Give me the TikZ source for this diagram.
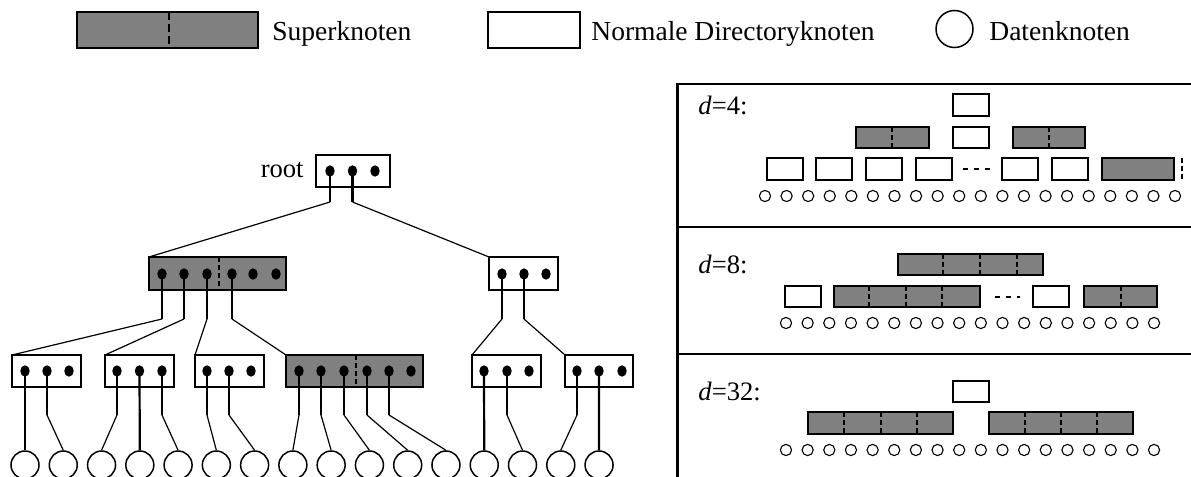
\documentclass[tikz,border=0pt]{standalone}
\usepackage{fontspec}
\setmainfont{Liberation Serif}
\usetikzlibrary{shapes.geometric}
\definecolor{sgray}{gray}{0.5}
\newcommand\mkbx[6]{\node[#6, minimum width={(#4-#2)*0.5pt}, minimum height={(#5-#3)*0.5pt}] (#1) at ({(#2+#4)/2},{(#3+#5)/2}) {};}
\newcommand\mkdiv[2]{\draw[divd] (#2,0 |- #1.north) -- (#2,0 |- #1.south);}
\newcommand\mkconn[3]{\draw[stem] (#1.center) -- (#1.center |- 0,#2) coordinate (#1b); \draw[diag] (#1b) -- (#3);}
\begin{document}
\begin{tikzpicture}[x=0.5pt,y=-0.5pt,
 bx/.style={draw, line width=1pt, inner sep=0pt, outer sep=0pt, rectangle},
 wbox/.style={bx, fill=white},
 sbox/.style={bx, fill=sgray},
 divd/.style={line width=1pt, dash pattern=on 2.5pt off 1.5pt},
 dot/.style={ellipse, fill=black, inner sep=0pt, minimum width=4.7pt, minimum height=5.7pt},
 dnode/.style={circle, draw, line width=0.75pt, inner sep=0pt, minimum size=14pt},
 snode/.style={circle, draw, line width=0.55pt, inner sep=0pt, minimum size=5.6pt},
 stem/.style={line width=1.1pt},
 diag/.style={line width=0.6pt},
 frame/.style={line width=1.1pt},
 dashes/.style={line width=0.9pt, dash pattern=on 2.5pt off 3pt},
 txt/.style={inner sep=0pt, font=\fontsize{13.75}{16}\selectfont},
 dtxt/.style={inner sep=0pt, font=\fontsize{13.3}{15}\selectfont},
]
\useasboundingbox (0,0) rectangle (1191,477);
\clip (0,0) rectangle (1191,477);

% ---------- legend ----------
\mkbx{lgs}{77}{12}{258}{48}{sbox}
\draw[line width=1.2pt, dash pattern=on 4pt off 2pt] (169,0 |- lgs.north) -- (169,0 |- lgs.south);
\node[txt, anchor=base west] (lgst) at (272,40) {Superknoten};
\mkbx{lgw}{488}{12}{580}{48}{wbox}
\node[txt, anchor=base west] (lgwt) at (591,40) {Normale Directoryknoten};
\node[circle, draw, line width=0.75pt, inner sep=0pt, minimum size=18.5pt] (lgc) at (954.5,29) {};
\node[txt, anchor=base west] (lgct) at (989,40) {Datenknoten};

% ---------- tree ----------
\mkbx{root}{316}{155}{390}{187}{wbox}
\node[dot] (r1) at (330,171) {};
\node[dot] (r2) at (352.5,171) {};
\node[dot] (r3) at (375,171) {};
\node[dtxt, anchor=base east] (rootlbl) at (304,177) {root};

\mkbx{L}{149}{257}{286}{290}{sbox}
\mkdiv{L}{219}
\foreach \n/\x in {1/162,2/184,3/207,4/232,5/253,6/276} \node[dot] (L\n) at (\x,274) {};
\mkbx{R}{489}{257}{558}{290}{wbox}
\foreach \n/\x in {1/502,2/524,3/546} \node[dot] (R\n) at (\x,274) {};

\mkbx{A}{12}{355}{81}{387}{wbox}
\foreach \n/\x in {1/25,2/47,3/69} \node[dot] (A\n) at (\x,371) {};
\mkbx{B}{105}{355}{174}{387}{wbox}
\foreach \n/\x in {1/117,2/139.5,3/162} \node[dot] (B\n) at (\x,371) {};
\mkbx{C}{195}{355}{264}{387}{wbox}
\foreach \n/\x in {1/207,2/229,3/251} \node[dot] (C\n) at (\x,371) {};
\mkbx{D}{286}{355}{423}{387}{sbox}
\mkdiv{D}{356}
\foreach \n/\x in {1/299,2/321,3/344,4/367,5/389,6/411} \node[dot] (D\n) at (\x,371) {};
\mkbx{E}{472}{355}{541}{387}{wbox}
\foreach \n/\x in {1/484,2/507,3/529} \node[dot] (E\n) at (\x,371) {};
\mkbx{F}{565}{355}{633}{387}{wbox}
\foreach \n/\x in {1/577,2/599,3/622} \node[dot] (F\n) at (\x,371) {};

\foreach \i in {1,...,16} \node[dnode] (c\i) at ({25+38.27*(\i-1)},465) {};

% connectors
\mkconn{r1}{202}{L.north west}
\mkconn{r2}{202}{R.north west}
\mkconn{L1}{319}{A.north west}
\mkconn{L2}{319}{B.north west}
\mkconn{L3}{319}{C.north west}
\mkconn{L4}{319}{D.north west}
\mkconn{R1}{319}{E.north west}
\mkconn{R2}{319}{F.north west}
\draw[stem] (A1.center) -- (c1.north);
\mkconn{A2}{415}{c2.north}
\mkconn{B1}{415}{c3.north}
\draw[stem] (B2.center) -- (c4.north);
\mkconn{B3}{415}{c5.north}
\mkconn{C1}{415}{c6.north}
\mkconn{C2}{415}{c7.north}
\mkconn{D1}{415}{c8.north}
\mkconn{D2}{415}{c9.north}
\mkconn{D3}{415}{c10.north}
\mkconn{D4}{415}{c11.north}
\mkconn{D5}{415}{c12.north}
\draw[stem] (E1.center) -- (c13.north);
\mkconn{E2}{415}{c14.north}
\mkconn{F1}{415}{c15.north}
\draw[stem] (F2.center) -- (c16.north);

% ---------- right panel ----------
\draw[frame] (1191,84) -- (677.5,84) -- (677.5,477);
\draw[frame] (676,227) -- (1191,227);
\draw[frame] (676,354) -- (1191,354);

% d=4
\node[dtxt, anchor=base west] (l4) at (698,114) {\textit{d}=4:};
\mkbx{p0}{953}{94}{989}{116}{wbox}
\mkbx{p1a}{856}{127}{929}{148}{sbox} \mkdiv{p1a}{892}
\mkbx{p1b}{953}{127}{989}{148}{wbox}
\mkbx{p1c}{1013}{127}{1085}{148}{sbox} \mkdiv{p1c}{1049}
\mkbx{p2a}{767}{158}{803}{180}{wbox}
\mkbx{p2b}{816}{158}{852}{180}{wbox}
\mkbx{p2c}{866}{158}{902}{180}{wbox}
\mkbx{p2d}{916}{158}{952}{180}{wbox}
\draw[dashes] (963,169) -- (990,169);
\mkbx{p2e}{1002}{158}{1038}{180}{wbox}
\mkbx{p2f}{1052}{158}{1088}{180}{wbox}
\mkbx{p2g}{1102}{158}{1174}{180}{sbox}
\draw[divd] (1181.5,158) -- (1181.5,180);
\foreach \i in {0,...,19} \node[snode] (a\i) at ({765+21.58*\i},196) {};

% d=8
\node[dtxt, anchor=base west] (l8) at (698,273) {\textit{d}=8:};
\mkbx{q0}{898}{254}{1043}{275}{sbox}
\mkdiv{q0}{943} \mkdiv{q0}{980} \mkdiv{q0}{1017}
\mkbx{q1a}{785}{286}{821}{307}{wbox}
\mkbx{q1b}{834}{286}{980}{307}{sbox}
\mkdiv{q1b}{869} \mkdiv{q1b}{906} \mkdiv{q1b}{942}
\draw[dashes] (995,297) -- (1020,297);
\mkbx{q1c}{1033}{286}{1069}{307}{wbox}
\mkbx{q1d}{1084}{286}{1157}{307}{sbox} \mkdiv{q1d}{1121}
\foreach \i in {0,...,17} \node[snode] (b\i) at ({786+21.65*\i},323) {};

% d=32
\node[dtxt, anchor=base west] (l32) at (698,400) {\textit{d}=32:};
\mkbx{g0}{953}{381}{989}{402}{wbox}
\mkbx{g1a}{808}{412}{953}{434}{sbox}
\mkdiv{g1a}{844} \mkdiv{g1a}{881} \mkdiv{g1a}{917}
\mkbx{g1b}{989}{412}{1133}{434}{sbox}
\mkdiv{g1b}{1025} \mkdiv{g1b}{1061} \mkdiv{g1b}{1097}
\foreach \i in {0,...,17} \node[snode] (h\i) at ({786+21.65*\i},450) {};
\end{tikzpicture}
\end{document}
